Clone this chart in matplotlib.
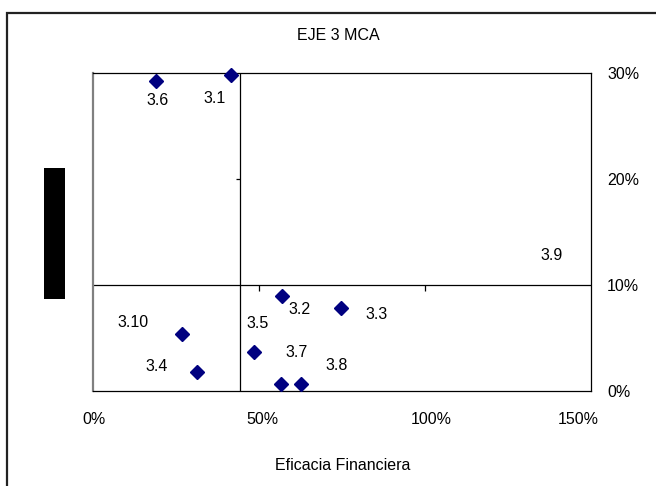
import matplotlib
matplotlib.use("Agg")
import matplotlib.pyplot as plt
from matplotlib.patches import Rectangle
from matplotlib.ticker import FuncFormatter
from matplotlib.transforms import ScaledTranslation

# Projects of axis 3: financial efficacy (x, %) vs physical efficacy (y, %)
codes = ["3.1", "3.2", "3.3", "3.4", "3.5", "3.6", "3.7", "3.8", "3.10"]
eficacia_financiera = [41.6, 56.8, 74.7, 31.2, 48.4, 18.9, 56.5, 62.6, 26.7]
eficacia_fisica = [29.9, 9.0, 7.8, 1.8, 3.7, 29.3, 0.7, 0.7, 5.4]

x_ticks = [0, 50, 100, 150]
y_ticks = [0, 10, 20, 30]
x_cross = 44.3   # where the vertical axis crosses
y_cross = 10     # where the horizontal axis crosses

title = "EJE 3 MCA"
x_title = "Eficacia Financiera"

# label offsets (pixels) from each marker
label_offsets = {
    "3.1": (-17, -24), "3.2": (18, -14), "3.3": (36, -6), "3.4": (-40, 5),
    "3.5": (4, 28), "3.6": (2, -20), "3.7": (16, 31), "3.8": (36, 18),
    "3.10": (-49, 11),
}
# horizontal nudges (pixels) of the x tick labels
x_label_nudge = [1, 3, 6, -13]

FONT = ["Liberation Sans", "DejaVu Sans"]
FS = 11.5

W, H = 656, 486
fig = plt.figure(figsize=(W / 100, H / 100), dpi=100)
fig.patch.set_facecolor("white")

# plot area in pixel coordinates
left, right, top, bottom = 93, 591, 73.5, 391
ax = fig.add_axes([left / W, 1 - bottom / H, (right - left) / W, (bottom - top) / H])

ax.set_xlim(x_ticks[0], x_ticks[-1])
ax.set_ylim(y_ticks[0], y_ticks[-1])

for name, sp in ax.spines.items():
    sp.set_color("black")
    sp.set_linewidth(0.9)
ax.spines["left"].set_color("#808080")
ax.spines["left"].set_linewidth(1.6)

pct = FuncFormatter(lambda v, p: f"{v:.0f}%")
ax.set_xticks(x_ticks)
ax.set_yticks(y_ticks)
ax.xaxis.set_major_formatter(pct)
ax.yaxis.set_major_formatter(pct)
ax.tick_params(axis="x", length=0, pad=15, labelsize=FS)
ax.tick_params(axis="y", length=0, pad=11.5, labelsize=FS,
               left=False, labelleft=False, right=True, labelright=True)
for lab in ax.get_xticklabels() + ax.get_yticklabels():
    lab.set_family(FONT)
for lab, dx in zip(ax.get_xticklabels(), x_label_nudge):
    lab.set_transform(lab.get_transform() +
                      ScaledTranslation(dx / 100, 0, fig.dpi_scale_trans))

# crossing axes
ax.axvline(x_cross, color="black", lw=0.9)
ax.axhline(y_cross, color="black", lw=0.9)
ax.plot([t for t in x_ticks[1:-1]], [y_cross] * (len(x_ticks) - 2),
        linestyle="none", marker=3, markersize=4, color="black", mew=0.9)
ax.plot([x_cross], [20], linestyle="none", marker=0, markersize=3,
        color="black", mew=0.9)

# data points
ax.plot(eficacia_financiera, eficacia_fisica, linestyle="none", marker="D",
        markersize=7, color="#000080", clip_on=False, zorder=5)

for c, xv, yv in zip(codes, eficacia_financiera, eficacia_fisica):
    dx, dy = label_offsets[c]
    ax.annotate(c, (xv, yv), xytext=(dx, dy), textcoords="offset pixels",
                ha="center", va="center", fontsize=FS, family=FONT,
                color="black")

# label 3.9 (point lies outside the plotted range)
ax.text(138, 12.8, "3.9", ha="center", va="center", fontsize=FS,
        family=FONT, color="black")

fig.text(338 / W, 1 - 35 / H, title, ha="center", va="center",
         fontsize=FS, family=FONT)
fig.text(343 / W, 1 - 465 / H, x_title, ha="center", va="center",
         fontsize=FS, family=FONT)

# chart area border
fig.add_artist(Rectangle((7 / W, -0.2), 1.5, 1.2 - 13 / H,
                         transform=fig.transFigure, fill=False,
                         edgecolor="#222222", lw=1.6))
# filled block on the left
fig.add_artist(Rectangle((44 / W, 1 - 299 / H), 21 / W, 131 / H,
                         transform=fig.transFigure, facecolor="black",
                         edgecolor="none"))

fig.savefig("out.png", dpi=100, facecolor="white")
